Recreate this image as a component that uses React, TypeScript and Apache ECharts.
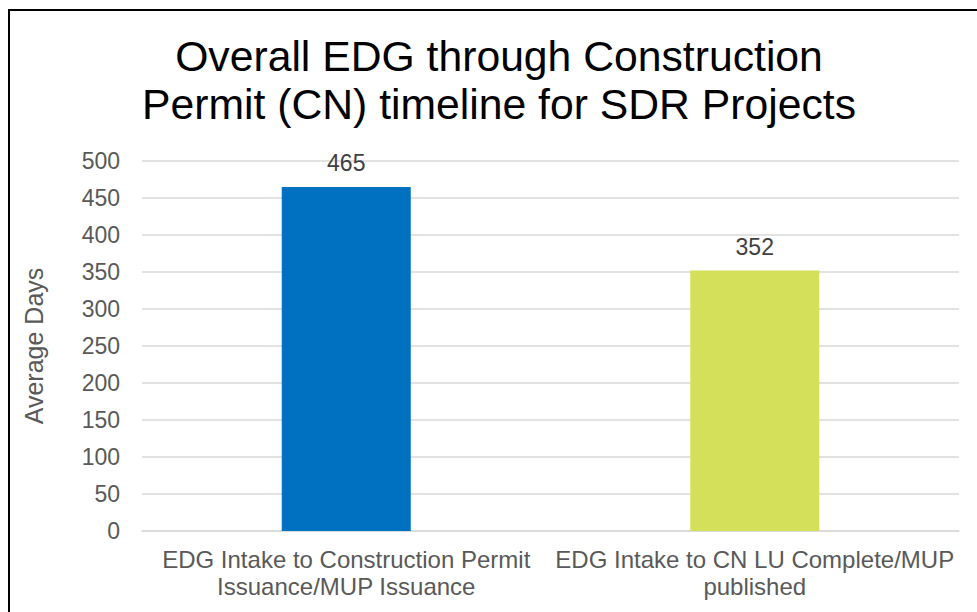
import React, { useEffect, useRef } from "react";
import * as echarts from "echarts";

const titleLines = ["Overall EDG through Construction", "Permit (CN) timeline for SDR Projects"];
const categories = [
  "EDG Intake to Construction Permit\nIssuance/MUP Issuance",
  "EDG Intake to CN LU Complete/MUP\npublished",
];
const averageDays = [465, 352];
const barColors = ["#0070C0", "#D4DF5A"];
const yAxisName = "Average Days";

export default function App() {
  const ref = useRef<HTMLDivElement>(null);
  useEffect(() => {
    if (!ref.current) return;
    const chart = echarts.init(ref.current, null, { renderer: "svg" });
    chart.setOption({
      animation: false,
      backgroundColor: "#ffffff",
      title: {
        text: titleLines.join("\n"),
        left: 484,
        top: 16,
        textAlign: "center",
        textStyle: {
          fontFamily: "Liberation Sans, Arial, sans-serif",
          fontSize: 42.7,
          fontWeight: "normal",
          color: "#000000",
          lineHeight: 48,
        },
      },
      grid: { left: 132, top: 150, width: 817, height: 370, containLabel: false },
      xAxis: {
        type: "category",
        data: categories,
        axisLine: { show: true, lineStyle: { color: "#d9d9d9", width: 1.5 } },
        axisTick: { show: false },
        axisLabel: {
          interval: 0,
          margin: 15,
          fontFamily: "Liberation Sans, Arial, sans-serif",
          fontSize: 24,
          lineHeight: 27,
          color: "#595959",
        },
      },
      yAxis: {
        type: "value",
        min: 0,
        max: 500,
        interval: 50,
        name: yAxisName,
        nameLocation: "middle",
        nameRotate: 90,
        nameGap: 96,
        nameTextStyle: {
          fontFamily: "Liberation Sans, Arial, sans-serif",
          fontSize: 25,
          color: "#595959",
        },
        axisLine: { show: false },
        axisTick: { show: false },
        splitLine: { lineStyle: { color: "#d9d9d9", width: 1.5 } },
        axisLabel: {
          margin: 22,
          fontFamily: "Liberation Sans, Arial, sans-serif",
          fontSize: 23,
          color: "#595959",
        },
      },
      series: [
        {
          type: "bar",
          barWidth: 129,
          data: averageDays.map((v, i) => ({ value: v, itemStyle: { color: barColors[i] } })),
          label: {
            show: true,
            position: "top",
            distance: 12,
            fontFamily: "Liberation Sans, Arial, sans-serif",
            fontSize: 23,
            color: "#404040",
          },
        },
      ],
    });
    return () => chart.dispose();
  }, []);
  return (
    <div
      style={{
        position: "fixed",
        left: 8,
        top: 9,
        border: "2px solid #000",
        width: 1000,
        height: 650,
        background: "#fff",
      }}
    >
      <div ref={ref} style={{ width: 1000, height: 650 }} />
    </div>
  );
}
